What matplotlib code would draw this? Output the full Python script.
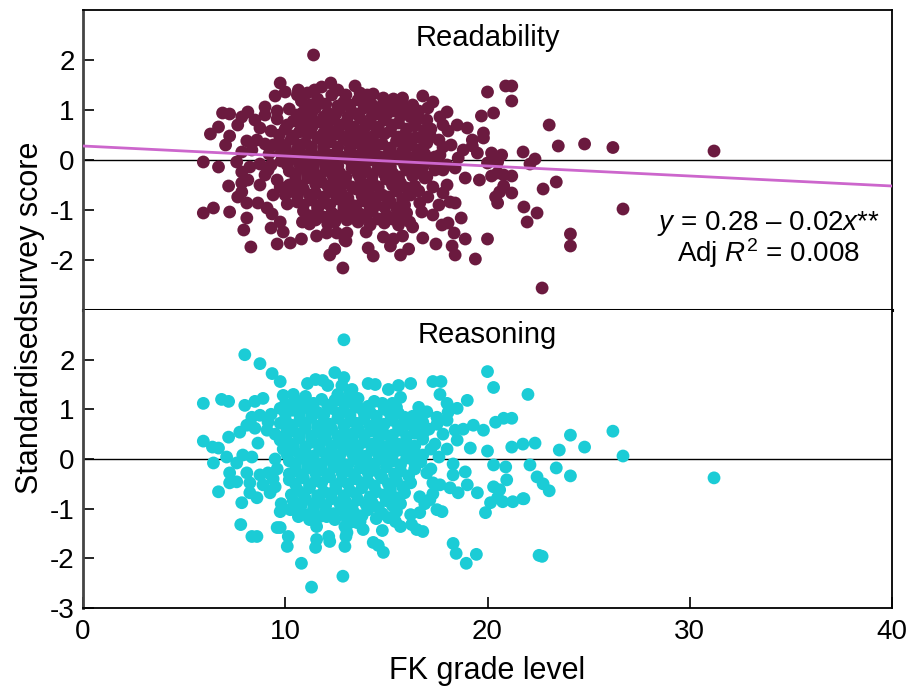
import numpy as np
import matplotlib
matplotlib.use("Agg")
import matplotlib.pyplot as plt

plt.rcParams['font.family'] = ['Liberation Sans', 'DejaVu Sans']
plt.rcParams['mathtext.fontset'] = 'custom'
plt.rcParams['mathtext.rm'] = 'Liberation Sans'
plt.rcParams['mathtext.it'] = 'Liberation Sans:italic'
plt.rcParams['axes.unicode_minus'] = False

# readability panel: (FK grade, standardised score)
readability_pts = [
    # outer points
    (11.4, 2.1), (31.2, 0.18), (26.2, 0.25), (24.8, 0.32), (23.05, 0.7), (23.5, 0.28),
    (21.76, 0.16), (22.1, -0.08), (22.35, 0.02), (22.75, -0.58), (23.4, -0.44), (21.8, -0.94),
    (22.45, -1.06), (21.96, -1.24), (24.1, -1.48), (24.1, -1.72), (26.7, -0.98), (22.7, -2.56),
    (20.9, 1.48), (21.2, 1.48), (20.0, 1.36), (21.2, 1.18), (20.3, 0.94), (19.7, 0.88),
    (19.8, 0.54), (19.8, 0.44), (21.2, -0.32), (20.8, -0.3), (20.5, -0.26), (20.2, -0.32),
    (19.6, -0.4), (18.9, -0.36), (20.8, -0.52), (20.6, -0.64), (20.4, -0.74), (20.5, -0.86),
    (21.2, -0.66), (20.0, -1.58), (19.4, -1.98), (18.9, -1.58), (18.35, -1.46), (18.4, -1.9),
    (18.25, -1.72), (17.45, -1.68), (17.75, -1.3), (18.05, -1.26), (18.7, -1.16), (16.1, -1.78),
    (15.7, -1.9), (14.35, -1.92), (14.1, -1.76), (15.2, -1.72), (14.85, -1.54), (15.35, -1.58),
    (12.85, -2.16), (13.05, -1.46), (12.95, -1.6), (13.45, 1.48), (13.7, 1.34), (14.05, 1.3),
    (14.35, 1.32), (14.85, 1.24), (15.35, 1.22), (15.8, 1.24), (16.8, 1.28), (17.3, 1.16),
    (17.05, 1.04), (16.3, 1.1), (16.1, 0.96), (18.0, 0.96), (17.65, 0.86), (18.5, 0.7),
    (19.0, 0.64), (18.05, 0.58), (19.25, 0.4), (19.25, 0.28), (19.5, 0.14), (20.2, 0.14),
    (20.7, 0.1), (20.5, -0.04), (20.0, -0.06), (18.8, 0.2), (18.55, 0.04), (18.4, -0.16),
    (17.8, 0.26), (17.65, 0.1), (17.5, -0.06), (17.8, -0.2), (18.0, -0.5), (17.8, -0.66),
    (18.15, -0.84), (18.4, -0.86), (16.65, -0.86), (16.75, -1.04), (16.15, -1.24), (16.0, -1.06),
    (17.05, -0.74), (17.3, -0.54), (16.65, -0.26), (17.0, -0.34), (16.4, -0.14),
    (9.75, 1.54), (9.5, 1.28), (10.0, 1.36), (10.65, 1.4), (10.6, 1.3), (11.45, 1.4),
    (11.8, 1.46), (12.25, 1.54), (9.0, 1.06), (6.9, 0.94), (7.25, 0.92), (8.15, 0.96),
    (7.85, 0.86), (6.7, 0.66), (6.3, 0.52), (7.25, 0.48), (7.05, 0.3), (7.65, 0.7),
    (8.5, 0.8), (8.75, 0.64), (8.1, 0.38), (8.6, 0.4), (9.0, 0.32), (7.85, 0.16),
    (8.35, 0.2), (5.95, -0.04), (6.7, -0.14), (7.6, -0.04), (8.25, -0.14), (8.75, -0.08),
    (7.85, -0.24), (9.15, -0.2), (7.2, -0.52), (7.85, -0.46), (8.15, -0.4), (8.75, -0.5),
    (7.85, -0.64), (7.65, -0.74), (8.1, -0.86), (8.65, -0.86), (5.95, -1.06), (6.45, -0.96),
    (7.25, -1.04), (8.1, -1.16), (7.95, -1.4), (8.3, -1.74), (9.1, -0.96), (9.35, -1.08),
    (9.3, -1.36), (9.75, -1.24), (9.9, -1.44), (9.6, -1.68), (10.25, -1.66), (10.8, -1.58),
    (11.55, -1.52), (12.05, -1.46), (12.55, -1.46), (13.0, -1.62), (12.2, -1.9), (12.45, -1.78),
    (10.0, -0.7), (9.75, -0.54), (10.1, -0.88), (10.85, -1.24), (11.2, -1.28), (12.45, -1.24),
    (13.35, -1.06), (13.05, -1.2),
    # dense middle
    (10.8, 1.18), (11.6, 1.22), (12.3, 1.3), (12.9, 1.16), (13.6, 1.2), (14.3, 1.1), (15.0, 1.14),
    (15.9, 1.06), (16.6, 0.98), (10.2, 1.02), (10.9, 0.96), (11.5, 1.04), (12.1, 0.94), (12.7, 1.02),
    (13.3, 0.96), (13.9, 1.04), (14.6, 0.92), (15.3, 0.98), (16.2, 0.86), (17.0, 0.8),
    (9.6, 0.82), (10.4, 0.78), (11.0, 0.84), (11.7, 0.76), (12.4, 0.82), (13.0, 0.74), (13.7, 0.84),
    (14.2, 0.72), (14.9, 0.8), (15.6, 0.74), (16.4, 0.68), (17.2, 0.62), (17.8, 0.7),
    (9.3, 0.58), (10.0, 0.62), (10.7, 0.56), (11.3, 0.64), (11.9, 0.54), (12.6, 0.6), (13.2, 0.52),
    (13.9, 0.62), (14.5, 0.54), (15.2, 0.58), (15.9, 0.5), (16.7, 0.46),
    (9.7, 0.36), (10.3, 0.42), (11.0, 0.34), (11.6, 0.44), (12.2, 0.36), (12.9, 0.42), (13.5, 0.34),
    (14.1, 0.4), (14.8, 0.32), (15.5, 0.38), (16.2, 0.3), (17.0, 0.34),
    (10.0, 0.16), (10.6, 0.22), (11.3, 0.14), (11.9, 0.2), (12.5, 0.12), (13.2, 0.22), (13.8, 0.14),
    (14.4, 0.2), (15.1, 0.12), (15.8, 0.18), (16.5, 0.1),
    (9.8, -0.02), (10.4, 0.04), (11.1, -0.06), (11.7, 0.02), (12.3, -0.04), (13.0, 0.04),
    (13.6, -0.06), (14.3, 0.0), (14.9, -0.08), (15.6, 0.02), (16.3, -0.06), (17.1, -0.02),
    (10.2, -0.22), (10.8, -0.16), (11.4, -0.24), (12.0, -0.18), (12.7, -0.26), (13.3, -0.16),
    (14.0, -0.22), (14.6, -0.18), (15.3, -0.26), (16.0, -0.2), (16.8, -0.14),
    (10.5, -0.42), (11.1, -0.36), (11.8, -0.44), (12.4, -0.38), (13.0, -0.46), (13.7, -0.36),
    (14.3, -0.44), (15.0, -0.38), (15.7, -0.46), (16.4, -0.52),
    (10.3, -0.62), (10.9, -0.58), (11.5, -0.66), (12.2, -0.6), (12.8, -0.68), (13.5, -0.58),
    (14.1, -0.64), (14.8, -0.7), (15.5, -0.62), (16.2, -0.7),
    (10.6, -0.84), (11.3, -0.8), (11.9, -0.86), (12.6, -0.78), (13.2, -0.88), (13.9, -0.82),
    (14.5, -0.9), (15.2, -0.84), (15.9, -0.9),
    (10.9, -1.02), (11.6, -0.98), (12.3, -1.06), (12.9, -1.0), (13.7, -1.08), (14.3, -1.02),
    (15.0, -1.1), (15.6, -1.04),
    (11.5, -1.2), (12.1, -1.28), (13.6, -1.24), (14.2, -1.3), (14.9, -1.26), (15.6, -1.3),
    (16.3, -1.34), (14.0, -1.44), (15.8, -1.52), (16.8, -1.56), (17.3, -1.1), (17.6, -0.9),
    (16.9, -0.36), (17.4, 0.06), (17.2, 0.46), (18.2, 0.3), (18.0, -0.1), (9.2, 0.12),
    (9.0, -0.3), (9.4, -0.7), (9.6, 0.98), (9.0, 0.9),
    (11.2, 1.1), (12.0, 1.12), (12.6, 1.08), (13.2, 1.1), (14.0, 1.14), (14.7, 1.06), (15.5, 1.08),
    (10.6, 0.9), (11.3, 0.92), (11.9, 0.86), (12.5, 0.92), (13.1, 0.86), (13.6, 0.92), (14.3, 0.88),
    (15.0, 0.9), (15.7, 0.88), (16.6, 0.82),
    (10.1, 0.7), (10.8, 0.68), (11.4, 0.72), (12.1, 0.66), (12.8, 0.7), (13.4, 0.66), (14.0, 0.72),
    (14.6, 0.66), (15.3, 0.7), (16.0, 0.62), (16.9, 0.6),
    (9.7, 0.5), (10.4, 0.48), (11.1, 0.52), (11.7, 0.46), (12.4, 0.5), (13.0, 0.46), (13.7, 0.5),
    (14.3, 0.46), (14.9, 0.52), (15.6, 0.46), (16.4, 0.44),
    (10.0, 0.28), (10.7, 0.3), (11.3, 0.26), (11.9, 0.3), (12.6, 0.26), (13.2, 0.32), (13.9, 0.26),
    (14.5, 0.3), (15.2, 0.24), (15.9, 0.28), (16.7, 0.22),
    (10.3, 0.08), (10.9, 0.1), (11.6, 0.06), (12.2, 0.1), (12.8, 0.06), (13.5, 0.08), (14.1, 0.1),
    (14.7, 0.06), (15.4, 0.08), (16.1, 0.06), (16.9, 0.12),
    (10.1, -0.1), (10.7, -0.08), (11.4, -0.12), (12.0, -0.08), (12.6, -0.12), (13.3, -0.08),
    (13.9, -0.12), (14.6, -0.1), (15.2, -0.14), (15.9, -0.1), (16.6, -0.08),
    (10.5, -0.3), (11.1, -0.28), (11.7, -0.32), (12.3, -0.28), (13.0, -0.34), (13.6, -0.28),
    (14.3, -0.32), (14.9, -0.28), (15.6, -0.34), (16.3, -0.32),
    (10.2, -0.5), (10.8, -0.52), (11.5, -0.48), (12.1, -0.52), (12.7, -0.5), (13.3, -0.54),
    (14.0, -0.5), (14.6, -0.54), (15.3, -0.5), (16.0, -0.56),
    (10.6, -0.72), (11.2, -0.7), (11.9, -0.74), (12.5, -0.7), (13.1, -0.76), (13.8, -0.72),
    (14.4, -0.76), (15.1, -0.74), (15.8, -0.78),
    (10.9, -0.9), (11.6, -0.92), (12.2, -0.9), (12.9, -0.94), (13.5, -0.92), (14.2, -0.96),
    (14.9, -0.94), (15.5, -0.96),
    (11.2, -1.12), (11.9, -1.14), (12.6, -1.12), (13.3, -1.16), (14.0, -1.14), (14.6, -1.18),
    (15.3, -1.18),
    (12.6, 1.4), (13.0, 1.3), (11.1, 1.34), (15.6, -1.2), (16.6, -0.62), (17.4, -0.2),
    (17.6, 0.4), (9.4, 0.3), (9.6, -0.4), (9.3, -0.1), (9.8, 0.15),
]

# reasoning panel
reasoning_pts = [
    # outer points
    (12.9, 2.4), (8.0, 2.1), (8.75, 1.92), (9.35, 1.72), (9.75, 1.56), (5.95, 1.12),
    (6.85, 1.2), (7.2, 1.16), (8.0, 1.08), (8.5, 1.16), (8.9, 1.22), (8.35, 0.84),
    (8.75, 0.88), (9.15, 0.74), (9.1, 0.58), (8.1, 0.68), (8.5, 0.62), (7.75, 0.54),
    (7.2, 0.44), (8.65, 0.32), (5.95, 0.36), (6.4, 0.24), (6.7, 0.22), (7.1, 0.04),
    (6.45, -0.08), (7.6, -0.08), (7.9, 0.08), (8.35, 0.04), (7.25, -0.28), (7.25, -0.48),
    (7.6, -0.46), (8.1, -0.28), (8.25, -0.48), (6.7, -0.66), (7.85, -0.88), (8.25, -0.68),
    (8.6, -0.78), (8.75, -0.32), (9.15, -0.28), (8.9, -0.52), (9.5, -0.56), (9.25, -0.68),
    (9.75, -1.06), (10.25, -1.02), (10.65, -1.16), (7.8, -1.32), (8.35, -1.56), (8.6, -1.56),
    (9.6, -1.38), (9.75, -1.38), (10.15, -1.56), (10.1, -1.76), (10.8, -2.1), (11.3, -2.58),
    (12.85, -2.36), (11.55, -1.62), (11.5, -1.78), (12.15, -1.56), (12.2, -1.66), (13.0, -1.56),
    (12.95, -1.76), (11.2, -1.22), (11.55, -1.36), (12.05, -1.16), (12.45, -1.22), (13.1, -1.28),
    (13.55, -1.28), (13.05, -1.48),
    (11.1, 1.52), (11.5, 1.6), (11.85, 1.58), (12.1, 1.48), (12.45, 1.74), (12.9, 1.64),
    (13.2, 1.34), (12.45, 1.18), (13.05, 1.18), (9.9, 1.28), (9.75, 1.02), (10.5, 1.18),
    (10.9, 1.12), (9.75, 0.72), (9.75, 0.38), (10.1, 0.58),
    (20.0, 1.76), (20.3, 1.44), (22.0, 1.3), (17.3, 1.56), (17.7, 1.56), (17.65, 1.3),
    (16.2, 1.52), (15.6, 1.48), (15.1, 1.4), (15.7, 1.24), (14.1, 1.52), (14.45, 1.5),
    (16.6, 1.04), (18.0, 1.12), (19.0, 1.18), (18.5, 1.02), (18.05, 0.94), (17.5, 0.84),
    (18.0, 0.78), (18.4, 0.58), (18.8, 0.6), (19.3, 0.68), (19.8, 0.58), (20.4, 0.74),
    (20.8, 0.82), (21.2, 0.82), (21.2, 0.24), (21.75, 0.3), (22.35, 0.32), (20.0, 0.16),
    (19.15, 0.22), (18.5, 0.38), (20.3, -0.12), (20.9, -0.16), (22.1, -0.12), (22.45, -0.36),
    (20.95, -0.42), (18.3, -0.32), (18.9, -0.26), (19.0, -0.52), (18.55, -0.68), (18.15, -0.58),
    (17.65, -0.52), (19.5, -0.68), (20.3, -0.56), (20.6, -0.62), (20.5, -0.78), (20.75, -0.86),
    (21.25, -0.86), (21.75, -0.8), (20.15, -0.88), (19.9, -1.08), (17.0, -0.28), (17.3, -0.48),
    (16.65, -0.76), (17.15, -0.82), (17.5, -1.02), (17.75, -1.06), (16.65, -1.08), (16.25, -1.32),
    (16.5, -1.42), (16.8, -1.46), (15.45, -1.26), (15.7, -1.36), (14.8, -1.44), (14.35, -1.68),
    (14.6, -1.74), (14.85, -1.88), (18.3, -1.7), (18.45, -1.9), (18.95, -2.1), (19.45, -1.92),
    (22.55, -1.94), (13.7, -1.26), (13.2, -1.28), (13.85, -1.42), (12.95, -1.36),
    (24.1, 0.48), (23.55, 0.18), (24.8, 0.24), (26.2, 0.56), (26.7, 0.06), (31.2, -0.38),
    (22.75, -0.5), (23.05, -0.64), (23.4, -0.18), (24.1, -0.34), (21.8, -0.8), (22.7, -1.96),
    # dense middle
    (11.0, 1.26), (11.8, 1.2), (12.6, 1.3), (13.6, 1.22), (14.4, 1.16), (15.3, 1.12),
    (10.3, 0.98), (11.0, 1.04), (11.6, 0.94), (12.3, 1.02), (12.9, 0.96), (13.6, 1.04),
    (14.2, 0.94), (14.9, 1.0), (15.6, 0.92), (16.3, 0.86),
    (10.0, 0.8), (10.7, 0.76), (11.3, 0.84), (11.9, 0.74), (12.6, 0.82), (13.2, 0.76),
    (13.9, 0.8), (14.6, 0.72), (15.3, 0.78), (16.0, 0.7), (16.8, 0.74),
    (10.4, 0.56), (11.0, 0.62), (11.6, 0.54), (12.3, 0.6), (12.9, 0.52), (13.6, 0.62),
    (14.2, 0.56), (14.9, 0.5), (15.6, 0.58), (16.4, 0.52), (17.1, 0.6),
    (10.1, 0.36), (10.7, 0.42), (11.3, 0.34), (12.0, 0.4), (12.6, 0.32), (13.3, 0.42),
    (13.9, 0.34), (14.6, 0.38), (15.2, 0.3), (16.0, 0.34), (16.8, 0.4),
    (10.4, 0.18), (11.0, 0.12), (11.7, 0.2), (12.3, 0.14), (13.0, 0.22), (13.6, 0.12),
    (14.3, 0.2), (14.9, 0.14), (15.6, 0.18), (16.4, 0.12), (17.2, 0.2),
    (10.2, -0.04), (10.8, 0.02), (11.4, -0.06), (12.1, 0.0), (12.7, -0.04), (13.4, 0.04),
    (14.0, -0.06), (14.7, 0.0), (15.3, -0.04), (16.0, 0.02), (16.7, -0.06),
    (10.5, -0.24), (11.1, -0.18), (11.8, -0.22), (12.4, -0.16), (13.1, -0.24), (13.7, -0.18),
    (14.4, -0.22), (15.0, -0.16), (15.7, -0.24), (16.4, -0.2),
    (10.2, -0.42), (10.9, -0.38), (11.5, -0.44), (12.2, -0.36), (12.8, -0.44), (13.5, -0.4),
    (14.1, -0.46), (14.8, -0.38), (15.5, -0.44), (16.2, -0.48),
    (10.6, -0.62), (11.2, -0.58), (11.9, -0.66), (12.5, -0.6), (13.2, -0.64), (13.8, -0.58),
    (14.5, -0.66), (15.2, -0.62), (15.9, -0.68),
    (10.4, -0.84), (11.0, -0.8), (11.7, -0.86), (12.3, -0.8), (13.0, -0.86), (13.6, -0.82),
    (14.3, -0.88), (15.0, -0.84), (15.7, -0.9),
    (10.7, -1.04), (11.4, -1.0), (12.0, -1.06), (12.8, -1.02), (13.4, -1.08), (14.1, -1.02),
    (14.8, -1.1), (15.5, -1.06), (16.2, -1.12),
    (10.0, 1.1), (9.9, 0.2), (9.6, -0.2), (9.5, 0.0), (9.8, -0.9), (17.4, 0.3), (17.6, 0.04),
    (17.2, -0.2), (18.0, 0.2), (18.3, -0.1), (16.9, -0.9), (17.8, 0.5),
    (10.6, 1.1), (11.4, 1.12), (12.1, 1.08), (12.9, 1.12), (13.4, 1.1), (14.1, 1.06), (14.8, 1.12),
    (15.5, 1.04),
    (10.0, 0.92), (10.7, 0.9), (11.3, 0.94), (11.9, 0.88), (12.6, 0.92), (13.2, 0.88), (13.9, 0.92),
    (14.5, 0.86), (15.2, 0.9), (15.9, 0.84), (16.6, 0.86),
    (10.3, 0.68), (11.0, 0.72), (11.6, 0.66), (12.2, 0.7), (12.9, 0.66), (13.5, 0.72), (14.2, 0.66),
    (14.9, 0.7), (15.6, 0.66), (16.4, 0.64),
    (10.0, 0.48), (10.7, 0.5), (11.3, 0.46), (12.0, 0.52), (12.6, 0.46), (13.3, 0.5), (13.9, 0.46),
    (14.6, 0.52), (15.3, 0.48), (16.0, 0.46), (16.8, 0.5),
    (10.4, 0.28), (11.0, 0.24), (11.7, 0.3), (12.3, 0.26), (13.0, 0.3), (13.6, 0.26), (14.3, 0.3),
    (14.9, 0.24), (15.6, 0.3), (16.4, 0.26),
    (10.1, 0.08), (10.7, 0.1), (11.4, 0.06), (12.0, 0.1), (12.7, 0.08), (13.3, 0.12), (14.0, 0.06),
    (14.6, 0.1), (15.3, 0.08), (16.0, 0.12), (16.8, 0.08),
    (10.5, -0.12), (11.1, -0.08), (11.8, -0.1), (12.4, -0.06), (13.1, -0.12), (13.7, -0.08),
    (14.4, -0.1), (15.0, -0.06), (15.7, -0.12), (16.4, -0.08),
    (10.2, -0.3), (10.8, -0.32), (11.5, -0.28), (12.1, -0.32), (12.8, -0.28), (13.4, -0.32),
    (14.1, -0.28), (14.7, -0.32), (15.4, -0.3), (16.1, -0.34),
    (10.5, -0.5), (11.2, -0.52), (11.8, -0.48), (12.5, -0.52), (13.1, -0.5), (13.8, -0.48),
    (14.4, -0.54), (15.1, -0.5), (15.8, -0.56),
    (10.3, -0.72), (10.9, -0.7), (11.6, -0.74), (12.2, -0.7), (12.9, -0.74), (13.5, -0.7),
    (14.2, -0.76), (14.9, -0.72), (15.5, -0.78),
    (10.8, -0.92), (11.4, -0.9), (12.0, -0.94), (12.7, -0.9), (13.3, -0.96), (14.0, -0.92),
    (14.6, -0.98), (15.3, -0.94),
    (11.0, -1.12), (11.7, -1.16), (12.4, -1.1), (13.0, -1.16), (13.8, -1.14), (14.5, -1.2),
    (15.1, -1.18),
    (13.3, 1.4), (12.8, 1.48), (10.4, 1.3), (9.5, 0.5), (9.4, -0.4), (9.3, 0.9),
    (17.3, -0.7), (17.5, 0.7), (17.0, 0.95),
]

fit_intercept = 0.28
fit_slope = -0.02

read_x, read_y = np.array(readability_pts).T
reas_x, reas_y = np.array(reasoning_pts).T

fig = plt.figure(figsize=(9.11, 6.89), dpi=100)
ax1 = fig.add_axes([83/911, 1 - 310/689, 809/911, 300/689])
ax2 = fig.add_axes([83/911, 1 - 608/689, 809/911, 298/689])

for ax in (ax1, ax2):
    ax.set_xlim(0, 40)
    ax.set_ylim(-3, 3)
    ax.axhline(0, color='black', lw=1.0, zorder=1)
    ax.tick_params(axis='y', direction='in', length=8, width=1.2, labelsize=20, pad=6)
    ax.tick_params(axis='x', direction='in', length=8, width=1.2, labelsize=20, pad=8)
    for s in ax.spines.values():
        s.set_linewidth(1.3)
    ax.spines['left'].set_color('#444444')
    ax.spines['left'].set_linewidth(2)

ax1.scatter(read_x, read_y, s=85, color='#6B1A3F', edgecolors='none', zorder=2)
xs = np.array([0, 40])
ax1.plot(xs, fit_intercept + fit_slope * xs, color='#CC66CC', lw=2, zorder=3)
ax1.set_yticks([-2, -1, 0, 1, 2])
ax1.set_xticks([])
ax1.spines['bottom'].set_linewidth(2.2)
ax1.text(20, 2.45, 'Readability', ha='center', va='center', fontsize=21)
ax1.text(33.9, -1.26, '$y$ = 0.28 \u2013 0.02$x$**', ha='center', va='center', fontsize=20)
ax1.text(33.9, -1.86, 'Adj $R^2$ = 0.008', ha='center', va='center', fontsize=20)

ax2.scatter(reas_x, reas_y, s=85, color='#1BCCD6', edgecolors='none', zorder=2)
ax2.set_yticks([-3, -2, -1, 0, 1, 2])
ax2.set_xticks([0, 10, 20, 30, 40])
ax2.spines['top'].set_visible(False)
ax2.text(20, 2.5, 'Reasoning', ha='center', va='center', fontsize=21)
ax2.set_xlabel('FK grade level', fontsize=22, labelpad=8)

fig.text(30/911, 1 - 318/689, 'Standardisedsurvey score', rotation=90,
         ha='center', va='center', fontsize=22)

fig.savefig('out.png', dpi=100)
